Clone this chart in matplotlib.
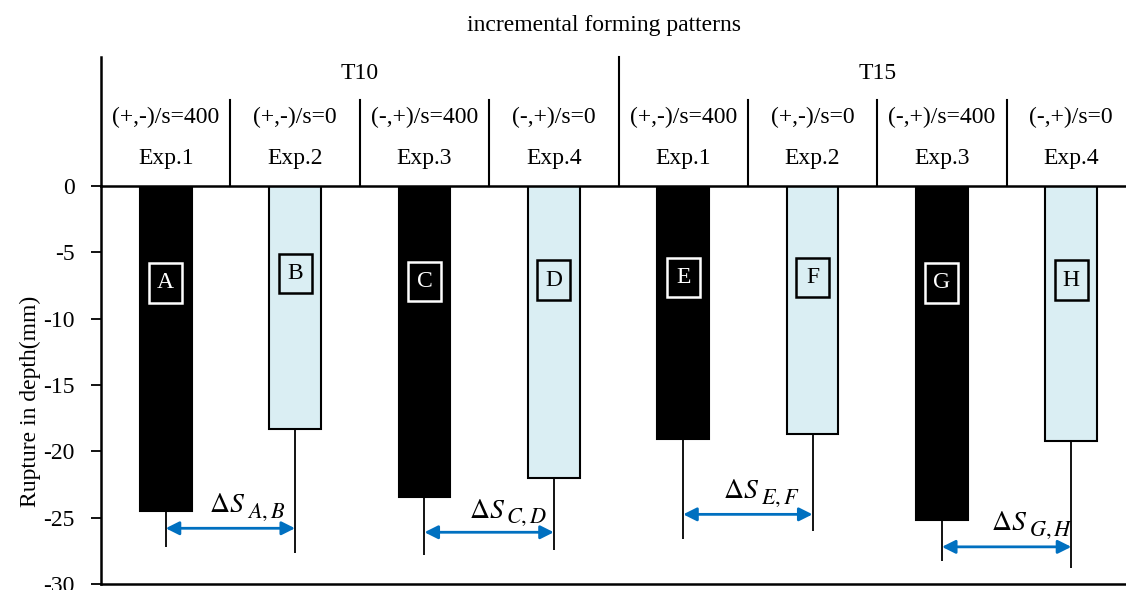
import matplotlib
matplotlib.use("Agg")
import matplotlib.pyplot as plt
from matplotlib.patches import Rectangle
import numpy as np

plt.rcParams['font.family'] = ['Liberation Serif', 'DejaVu Serif']
plt.rcParams['mathtext.fontset'] = 'stix'

groups = ['T10', 'T15']
conditions = ['(+,-)/s=400', '(+,-)/s=0', '(-,+)/s=400', '(-,+)/s=0',
              '(+,-)/s=400', '(+,-)/s=0', '(-,+)/s=400', '(-,+)/s=0']
experiments = ['Exp.1', 'Exp.2', 'Exp.3', 'Exp.4', 'Exp.1', 'Exp.2', 'Exp.3', 'Exp.4']
bar_letters = ['A', 'B', 'C', 'D', 'E', 'F', 'G', 'H']
depth = [-24.5, -18.3, -23.45, -22.0, -19.05, -18.7, -25.2, -19.2]
err_low = [2.7, 9.4, 4.35, 5.4, 7.55, 7.3, 3.1, 9.6]
letter_y = [-7.3, -6.6, -7.2, -7.1, -6.9, -6.9, -7.3, -7.1]
pairs = [(0, 1), (2, 3), (4, 5), (6, 7)]
arrow_y = [-25.8, -26.1, -24.75, -27.2]
delta_main = r'$\Delta S$'
delta_subs = [r'$A,B$', r'$C,D$', r'$E,F$', r'$G,H$']
delta_x = [0.615, 2.62, 4.59, 6.66]
delta_y = [-24.1, -24.5, -23.06, -25.46]

colors = ['black', '#DAEEF3'] * 4

fig = plt.figure(figsize=(11.26, 5.90), dpi=100)
ax = fig.add_axes([101/1126, 6/590, 1035/1126, 398/590])
x = np.arange(len(depth))
ax.bar(x, depth, width=0.4, color=colors, edgecolor='black', linewidth=1.5, zorder=2)
ax.vlines(x, np.array(depth), np.array(depth) - np.array(err_low), color='black', lw=1.3, zorder=3)

box_w, box_h = 0.255, 3.0
for xi, yi, lab, col in zip(x, letter_y, bar_letters, colors):
    dark = col == 'black'
    ec = 'white' if dark else 'black'
    ax.add_patch(Rectangle((xi - box_w / 2, yi - box_h / 2), box_w, box_h,
                           fill=False, ec=ec, lw=1.8, zorder=4))
    ax.text(xi, yi, lab, ha='center', va='center', fontsize=17, zorder=5,
            color=('white' if dark else 'black'))

for (i, j), ay, sub, dx, dy in zip(pairs, arrow_y, delta_subs, delta_x, delta_y):
    ax.annotate('', xy=(x[j], ay), xytext=(x[i], ay),
                arrowprops=dict(arrowstyle='<|-|>', color='#0070C0', lw=2, mutation_scale=20,
                                shrinkA=0, shrinkB=0), zorder=4)
    ax.text(dx, dy, delta_main, ha='right', va='center', fontsize=20)
    ax.annotate(sub, xy=(dx, dy), xytext=(1, -5), textcoords='offset points',
                ha='left', va='center', fontsize=16)

ax.set_xlim(-0.5, 7.5)
ax.set_ylim(-30, 0)
ax.set_yticks(np.arange(-30, 1, 5))
ax.set_yticklabels([str(v) for v in range(-30, 1, 5)])
ax.tick_params(axis='y', direction='out', length=7, width=1.3, labelsize=17, pad=12)
ax.set_xticks([])
ax.set_ylabel('Rupture in depth(mm)', fontsize=17)
ax.yaxis.set_label_coords(-0.058, 0.46)
for s in ['left', 'top', 'bottom']:
    ax.spines[s].set_linewidth(1.8)
ax.spines['right'].set_visible(False)

# header table
for b in [0.5, 1.5, 2.5, 4.5, 5.5, 6.5]:
    ax.plot([b, b], [0, 6.5], color='black', lw=1.5, clip_on=False)
ax.plot([3.5, 3.5], [0, 9.75], color='black', lw=1.5, clip_on=False)
ax.plot([-0.5, -0.5], [0, 9.75], color='black', lw=1.8, clip_on=False)
for gi, g in enumerate(groups):
    ax.text(1.5 + 4 * gi, 8.5, g, ha='center', va='center', fontsize=17, clip_on=False)
for xi, c, e in zip(x, conditions, experiments):
    ax.text(xi, 5.2, c, ha='center', va='center', fontsize=17, clip_on=False)
    ax.text(xi, 2.1, e, ha='center', va='center', fontsize=17, clip_on=False)

fig.text(604/1126, 1 - 25/590, 'incremental forming patterns', ha='center', va='center', fontsize=17)

fig.savefig('out.png', dpi=100)
